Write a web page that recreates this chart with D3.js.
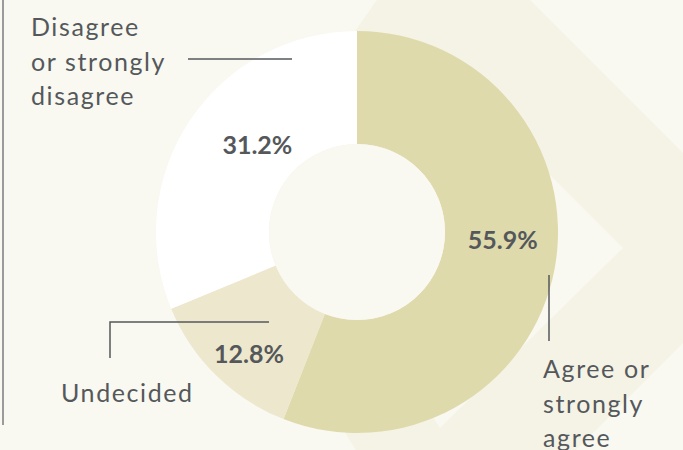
<!DOCTYPE html>
<html>
<head>
<meta charset="utf-8">
<script src="https://cdn.jsdelivr.net/npm/d3@7"></script>
<style>
  html, body { margin: 0; padding: 0; background: #f9f8f1; }
  svg { display: block; }
</style>
</head>
<body>
<div id="chart"></div>
<script>
// data
const categories = ["Agree or strongly agree", "Undecided", "Disagree or strongly disagree"];
const values = [55.9, 12.8, 31.2];
const sliceColors = ["#dfdaab", "#ede7cd", "#ffffff"];

const width = 683;
const height = 450;
const cx = 357, cy = 232;
const outerR = 201, innerR = 88;

const svg = d3.select("#chart").append("svg")
    .attr("width", width)
    .attr("height", height);

svg.append("rect").attr("width", width).attr("height", height).attr("fill", "#f9f8f1");

// background decoration (diamond band)
const line = d3.line();
svg.append("path")
    .attr("d", line([[218, 227], [440, -90], [778, 248], [440, 586]]) + "Z")
    .attr("fill", "#f4f3e6");
svg.append("path")
    .attr("d", line([[470, 95], [623, 248], [440, 428], [330, 260]]) + "Z")
    .attr("fill", "#f9f8f1");

// left rule
svg.append("line")
    .attr("x1", 3).attr("x2", 3).attr("y1", 0).attr("y2", 425)
    .attr("stroke", "#7a7c7c").attr("stroke-width", 1.5);

const pie = d3.pie().sort(null).value(d => d);
const arc = d3.arc().innerRadius(innerR).outerRadius(outerR);
const arcs = pie(values);

const g = svg.append("g").attr("transform", `translate(${cx},${cy})`);

g.selectAll("path.slice").data(arcs).join("path")
    .attr("class", "slice")
    .attr("d", arc)
    .attr("fill", (d, i) => sliceColors[i]);

g.append("circle").attr("r", innerR).attr("fill", "#f9f8f1");

// percentage labels (angle in degrees from top, radius)
const labelPolar = [[93, 146], [221.5, 163], [311, 132]];
g.selectAll("text.pct").data(arcs).join("text")
    .attr("class", "pct")
    .attr("x", (d, i) => labelPolar[i][1] * Math.sin(labelPolar[i][0] * Math.PI / 180))
    .attr("y", (d, i) => -labelPolar[i][1] * Math.cos(labelPolar[i][0] * Math.PI / 180))
    .attr("dy", "0.36em")
    .attr("text-anchor", "middle")
    .style("font-family", "Lato, 'Open Sans', sans-serif")
    .style("font-weight", 700)
    .style("font-size", "25px")
    .style("fill", "#55585b")
    .text(d => d.value.toFixed(1) + "%");

// leader lines
const leaders = [
    [[549, 275], [549, 341]],
    [[110, 358], [110, 322], [269, 322]],
    [[188, 59], [292, 59]]
];
svg.selectAll("path.leader").data(leaders).join("path")
    .attr("class", "leader")
    .attr("d", d => line(d))
    .attr("fill", "none")
    .attr("stroke", "#55585b")
    .attr("stroke-width", 1.5);

// category labels
const catLines = [["Agree or", "strongly", "agree"], ["Undecided"], ["Disagree", "or strongly", "disagree"]];
const catPos = [[543, 378], [61, 402], [31, 36]];
const cat = svg.selectAll("text.cat").data(catLines).join("text")
    .attr("class", "cat")
    .attr("x", (d, i) => catPos[i][0])
    .attr("y", (d, i) => catPos[i][1])
    .style("font-family", "Lato, 'Open Sans', sans-serif")
    .style("font-size", "25px")
    .style("letter-spacing", "1.6px")
    .style("fill", "#55585b");
cat.selectAll("tspan").data(d => d).join("tspan")
    .attr("x", function() { return d3.select(this.parentNode).attr("x"); })
    .attr("dy", (d, i) => i === 0 ? 0 : 34.5)
    .text(d => d);
</script>
</body>
</html>
